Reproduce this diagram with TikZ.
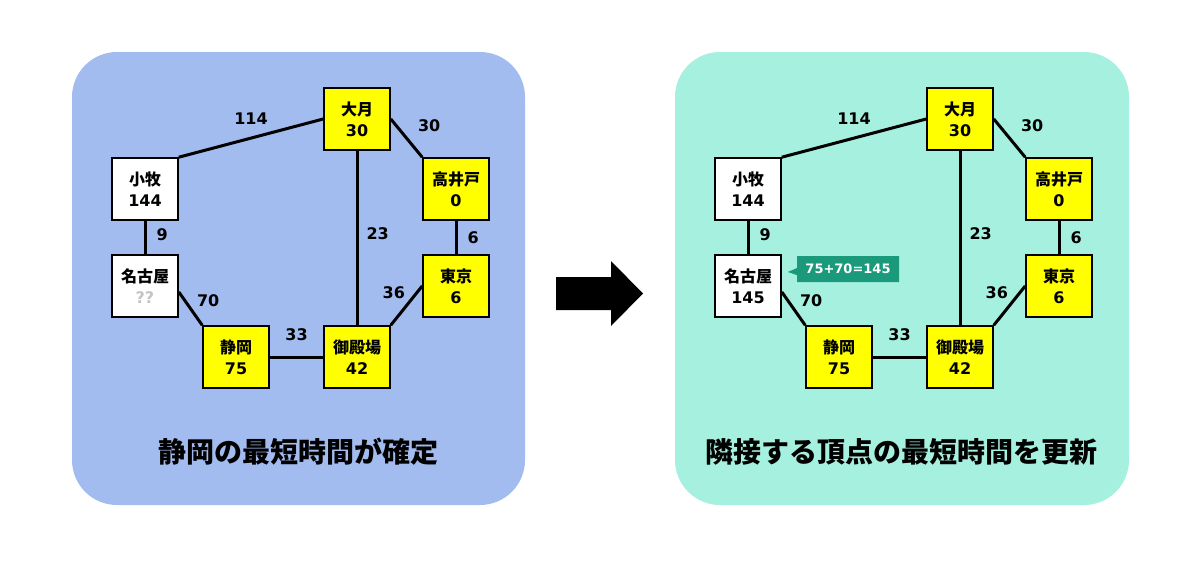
\documentclass[tikz,border=0pt]{standalone}
\usepackage{fontspec}
\setmainfont{DejaVu Sans}
\newfontfamily\jp{Noto Sans CJK JP}
\usepackage{tikz}
\usetikzlibrary{positioning,shapes.callouts}

\definecolor{panelblue}{HTML}{A3BCEF}
\definecolor{panelmint}{HTML}{A6F0DF}
\definecolor{doneyellow}{HTML}{FFFF00}
\definecolor{noteteal}{HTML}{1A9A7B}
\definecolor{unknowngray}{HTML}{C4C4C4}

% one copy of the route map, #1 = time shown for Nagoya
\newcommand{\routemap}[1]{%
    \node[station node,fill=doneyellow] (otsuki) at (357,119) {{\jp 大月}\\30};
    \node[station node] (komaki) at (145,189) {{\jp 小牧}\\144};
    \node[station node,fill=doneyellow] (takaido) at (456,189) {{\jp 高井戸}\\0};
    \node[station node] (nagoya) at (145,286) {{\jp 名古屋}\\#1};
    \node[station node,fill=doneyellow] (tokyo) at (456,286) {{\jp 東京}\\6};
    \node[station node,fill=doneyellow] (shizuoka) at (236,357) {{\jp 静岡}\\75};
    \node[station node,fill=doneyellow] (gotemba) at (357,357) {{\jp 御殿場}\\42};

    \path[every edge/.style={track},every node/.style={weight node}]
    (komaki.north east) edge node [above=12pt] {114} (otsuki.west)
    (otsuki.east) edge node [above right=5pt and 10pt] {30} (takaido.north west)
    (otsuki.south) edge node [right=8pt,yshift=4pt] {23} (gotemba.north)
    (takaido.south) edge node [right=10pt] {6} (tokyo.north)
    (komaki.south) edge node [right=10pt,yshift=3pt] {9} (nagoya.north)
    (tokyo.west) edge node [above left=5pt and 0pt] {36} (gotemba.north east)
    (nagoya.-10) edge node [above right=0pt and 5pt] {70} (shizuoka.north west)
    (shizuoka.east) edge node [above=15pt] {33} (gotemba.west);
}

\begin{document}
\begin{tikzpicture}[x=1pt,y=-1pt,
    station node/.style={rectangle,draw,fill=white,line width=1.6pt,
      minimum width=66pt,minimum height=62pt,inner sep=0pt,align=center,
      font=\bfseries\fontsize{16}{21}\selectfont},
    weight node/.style={inner sep=0pt,font=\bfseries\fontsize{16}{19}\selectfont},
    track/.style={draw,line width=3pt},
    panel/.style={rounded corners=45pt},
    title node/.style={font=\jp\bfseries\fontsize{28}{32}\selectfont}]
  \useasboundingbox (0,0) rectangle (1200,560);
  \fill[white] (0,0) rectangle (1200,560);

  \fill[panelblue,panel] (72,52) rectangle (525,505);
  \fill[panelmint,panel] (675,52) rectangle (1129,505);

  \begin{scope}[name prefix=before-]
    \routemap{\textcolor{unknowngray}{??}}
  \end{scope}
  \begin{scope}[xshift=603pt,name prefix=after-]
    \routemap{145}
  \end{scope}

  \node[rectangle callout,fill=noteteal,text=white,inner sep=0pt,
    minimum width=102pt,minimum height=26pt,
    font=\bfseries\fontsize{13}{15}\selectfont,
    callout absolute pointer={(after-nagoya.east)+(6pt,14pt)}]
    (sumnote) at (848,269) {75+70=145};

  \node[title node] (beforetitle) at (298,452) {静岡の最短時間が確定};
  \node[title node] (aftertitle) at (901,452) {隣接する頂点の最短時間を更新};

  % big arrow between the panels
  \fill (556,277) -- (611,277) -- (611,261) -- (643,293.5)
    -- (611,326) -- (611,310) -- (556,310) -- cycle;
\end{tikzpicture}
\end{document}
